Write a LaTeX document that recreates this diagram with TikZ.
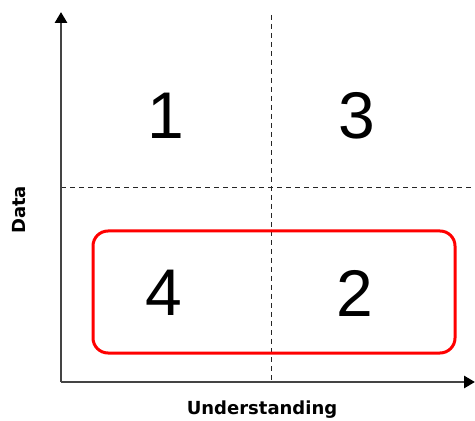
\documentclass[tikz,border=0pt]{standalone}
\usepackage{fontspec}
\setmainfont{Liberation Sans}
\newfontfamily\labelfont{DejaVu Sans}
\usetikzlibrary{positioning,arrows.meta}
\definecolor{AxisGray}{HTML}{444444}
\definecolor{BoxRed}{HTML}{FF0000}

\begin{document}
\begin{tikzpicture}[x=0.5pt,y=-0.5pt,>=stealth]
  \tikzstyle{axis}=[draw=AxisGray,line width=1.4pt,-{Triangle[length=5.5pt,width=6pt,color=black]}]
  \tikzstyle{divider}=[draw=black!85,dashed,line width=0.5pt,dash pattern=on 2.5pt off 2pt]
  \tikzstyle{quad}=[font=\fontsize{33}{36}\selectfont,inner sep=0pt]
  \tikzstyle{axlabel}=[font=\labelfont\bfseries\fontsize{9}{10}\selectfont,inner sep=0pt]
  \useasboundingbox (0,0) rectangle (475,421);
  \coordinate (origin) at (61,382);
  \coordinate (ytop) at (61,12);
  \coordinate (xend) at (475,382);
  \coordinate (vtop) at (271,15);
  \coordinate (vbot) at (271,382);
  \coordinate (hleft) at (61,188);
  \coordinate (hright) at (475,188);
  % quadrants
  \draw[divider] (vtop) -- (vbot);
  \draw[divider] (hleft) -- (hright);
  \draw[axis] (origin) -- (ytop);
  \draw[axis] (origin) -- (xend);
  \node[quad] (q1) at (166,116) {1};
  \node[quad] (q3) at (357,116) {3};
  \node[quad] (q4) at (164,293) {4};
  \node[quad] (q2) at (355,293) {2};
  \node[draw=BoxRed,line width=1.5pt,rounded corners=7.5pt,
    minimum width=181pt,minimum height=61pt] (focus) at (274,292) {};
  \node[axlabel] (xlabel) at (262,410) {Understanding};
  \node[axlabel,rotate=90] (ylabel) at (19,210) {Data};
\end{tikzpicture}
\end{document}
